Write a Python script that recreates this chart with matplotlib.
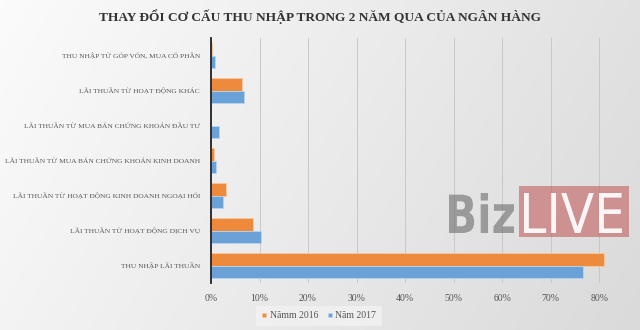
import numpy as np
import matplotlib
matplotlib.use("Agg")
from matplotlib import pyplot as plt
from matplotlib.patches import Rectangle, PathPatch
from matplotlib.textpath import TextPath
from matplotlib.font_manager import FontProperties
from matplotlib.transforms import Affine2D

# data (share of income, %)
categories = [
    'THU NHẬP TỪ GÓP VỐN, MUA CỔ PHẦN',
    'LÃI THUẦN TỪ HOẠT ĐỘNG KHÁC',
    'LÃI THUẦN TỪ MUA BÁN CHỨNG KHOÁN ĐẦU TƯ',
    'LÃI THUẦN TỪ MUA BÁN CHỨNG KHOÁN KINH DOANH',
    'LÃI THUẦN TỪ HOẠT ĐỘNG KINH DOANH NGOẠI HỐI',
    'LÃI THUẦN TỪ HOẠT ĐỘNG DỊCH VỤ',
    'THU NHẬP LÃI THUẦN',
]
nam_2016 = [0.2, 6.4, 0.05, 0.6, 3.0, 8.6, 81.0]
nam_2017 = [0.8, 6.8, 1.6, 1.0, 2.4, 10.4, 76.6]
series_names = ['Nămm 2016', 'Năm 2017']
xticks = [0, 10, 20, 30, 40, 50, 60, 70, 80]

orange = '#EE8A3C'
blue = '#6AA2D8'
label_col = '#555555'
W, H = 640, 330

fig = plt.figure(figsize=(6.4, 3.3), dpi=100)

# soft grey gradient background
bg = fig.add_axes([0, 0, 1, 1], zorder=-10)
gx = np.linspace(0, 1, 200)
gy = np.linspace(0, 1, 100)
X, Y = np.meshgrid(gx, gy)
G = 0.985 - 0.10 * X - 0.03 * Y
bg.imshow(np.dstack([G, G, G]), aspect='auto', extent=[0, 1, 0, 1], origin='upper')
bg.axis('off')

ax = fig.add_axes([211 / W, 1 - 283 / H, (621 - 211) / W, (283 - 38) / H])
ax.patch.set_alpha(0)

y = np.arange(len(categories))
h = 0.35
ax.barh(y - h / 2, nam_2016, height=h, color=orange, label=series_names[0],
        edgecolor='#f6c9a3', linewidth=0.6, zorder=3)
ax.barh(y + h / 2, nam_2017, height=h, color=blue, label=series_names[1],
        edgecolor='#b9d4ee', linewidth=0.6, zorder=3)

ax.set_ylim(len(categories) - 0.5, -0.5)
ax.set_xlim(0, 84.5)
ax.set_xticks(xticks)
ax.set_xticklabels([f'{t}%' for t in xticks], fontsize=7, color=label_col,
                   family='Liberation Serif')
ax.set_yticks(y)
ax.set_yticklabels(categories, fontsize=5.4, color=label_col, family='Liberation Serif')
ax.tick_params(axis='y', length=0, pad=8)
ax.tick_params(axis='x', length=0, pad=8)

ax.grid(axis='x', color='#c8c8c8', linewidth=0.7, zorder=0)
for s in ['top', 'right', 'bottom']:
    ax.spines[s].set_visible(False)
ax.spines['left'].set_color('#222222')
ax.spines['left'].set_linewidth(1.3)
ax.spines['left'].set_zorder(4)

fig.text(0.5, 0.950, 'THAY ĐỔI CƠ CẤU THU NHẬP TRONG 2 NĂM QUA CỦA NGÂN HÀNG',
         ha='center', va='center', fontsize=9.6, fontweight='bold',
         color='#333333', family='Liberation Serif')

leg = ax.legend(loc='center', bbox_to_anchor=((319 - 211) / 410, -(316 - 283) / 245),
                ncol=2, frameon=True, handlelength=0.4, handleheight=0.4,
                handletextpad=0.4, columnspacing=1.0, borderpad=0.6,
                prop={'family': 'Liberation Serif', 'size': 7})
leg.get_frame().set_facecolor('#f2f2f2')
leg.get_frame().set_edgecolor('none')
leg.get_frame().set_alpha(0.8)
for t in leg.get_texts():
    t.set_color(label_col)


def text_in_box(s, x0, x1, y0, y1, color, alpha, weight='normal', z=6):
    # stretch a glyph path so it fills a box given in picture pixels
    tp = TextPath((0, 0), s, size=1, prop=FontProperties(family='DejaVu Sans', weight=weight))
    ext = tp.get_extents()
    sx = (x1 - x0) / W / ext.width
    sy = (y1 - y0) / H / ext.height
    tr = Affine2D().translate(-ext.x0, -ext.y0).scale(sx, sy).translate(x0 / W, 1 - y1 / H)
    p = PathPatch(tr.transform_path(tp), transform=fig.transFigure, facecolor=color,
                  edgecolor='none', alpha=alpha, zorder=z)
    fig.patches.append(p)


# BizLIVE watermark
text_in_box('Biz', 449, 514, 193, 233, '#747474', 0.65, weight='bold')
fig.patches.append(Rectangle((519 / W, 1 - 237 / H), 110 / W, 51 / H,
                             transform=fig.transFigure, facecolor='#c25a5b', alpha=0.58,
                             edgecolor='none', zorder=5))
text_in_box('LIVE', 524, 622, 193, 233, 'white', 0.92)

fig.savefig('out.png', dpi=100)
